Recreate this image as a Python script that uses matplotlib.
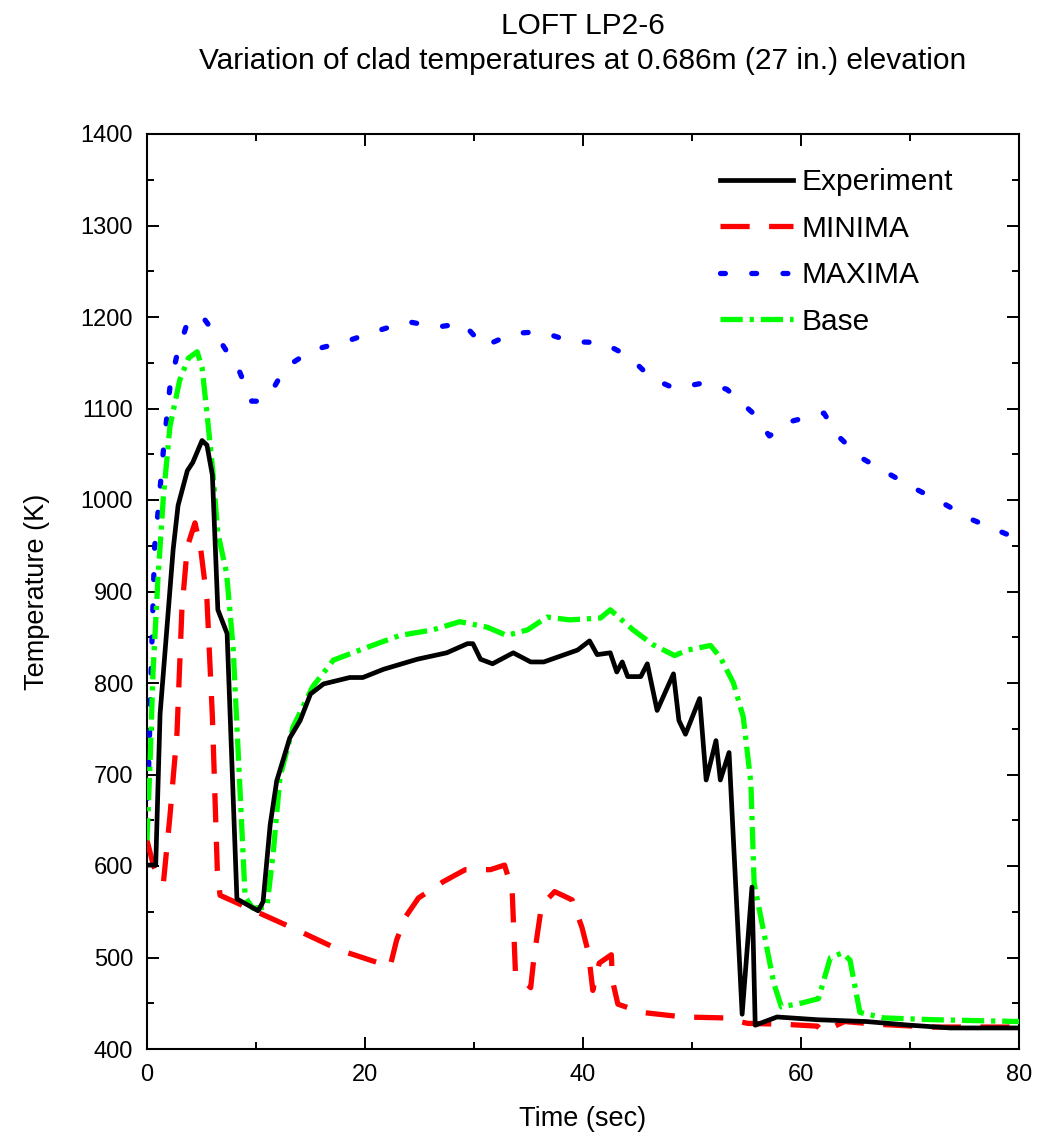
import matplotlib
matplotlib.use("Agg")
import matplotlib.pyplot as plt
from matplotlib.ticker import MultipleLocator

plt.rcParams['font.family'] = ['Liberation Sans', 'DejaVu Sans']
plt.rcParams['lines.scale_dashes'] = False

# ---- data ----
exp_t = [0, 0.8, 1.2, 2.4, 2.85, 3.7, 4.2, 5.05, 5.5, 6.0, 6.5, 7.35, 8.25, 10.2, 10.65,
         11.3, 11.9, 13.1, 14.05, 15.0, 16.2, 18.6, 19.8, 21.7, 24.8, 27.5, 29.4, 29.9,
         30.6, 31.7, 33.6, 35.2, 36.4, 39.5, 40.6, 41.3, 42.5, 43.1, 43.6, 44.1, 45.3,
         45.9, 46.8, 48.3, 48.8, 49.4, 50.7, 51.3, 52.2, 52.6, 53.4, 54.6, 55.5, 55.8,
         57.8, 61.5, 66.0, 70.0, 73.7, 80.0]
exp_T = [601, 601, 766, 946, 994, 1032, 1041, 1065, 1060, 1027, 880, 854, 564, 551, 561,
         645, 693, 740, 759, 788, 799, 806, 806, 815, 826, 833, 843, 843,
         826, 821, 833, 823, 823, 836, 846, 831, 833, 812, 823, 807, 807,
         821, 770, 810, 759, 744, 783, 694, 737, 694, 724, 438, 577, 426,
         435, 432, 430, 426, 423, 423]

min_t = [0, 0.6, 1.5, 2.1, 2.75, 3.2, 3.7, 4.4, 4.9, 5.5, 6.0, 6.45, 6.7, 13.4, 17.7,
         22.3, 22.9, 23.7, 24.9, 27.2, 29.2, 31.5, 32.8, 33.5, 33.8, 35.2, 35.5, 36.2,
         37.4, 39.0, 39.9, 40.5, 40.9, 41.2, 41.5, 42.6, 42.7, 43.2, 45.4, 49.2, 52.9,
         55.1, 58.5, 61.5, 62.0, 64.0, 67.0, 72.0, 80.0]
min_T = [628, 600, 581, 654, 745, 880, 949, 975, 949, 891, 763, 596, 568, 532, 508,
         490, 519, 544, 565, 583, 596, 596, 601, 574, 484, 467, 500, 557,
         572, 563, 533, 505, 464, 481, 494, 503, 475, 449, 440, 435, 434,
         428, 427, 425, 419, 430, 427, 424, 424]

max_t = [0, 0.2, 0.45, 0.7, 1.0, 1.5, 2.1, 2.7, 3.6, 5.0, 6.7, 8.5, 9.6, 10.5, 11.5,
         12.7, 15.2, 18.2, 20.9, 23.9, 26.6, 29.0, 30.9, 33.6, 36.1, 39.0, 41.8, 44.2,
         46.3, 48.4, 51.1, 53.2, 55.5, 57.1, 59.1, 62.1, 63.4, 65.4, 68.0, 70.7, 73.1,
         75.8, 78.6, 80.0]
max_T = [640, 730, 844, 949, 985, 1054, 1123, 1156, 1190, 1202, 1174, 1140, 1108, 1108, 1120,
         1145, 1164, 1173, 1184, 1195, 1189, 1193, 1168, 1182, 1184, 1173, 1172, 1157,
         1133, 1122, 1128, 1121, 1096, 1070, 1086, 1095, 1070, 1047, 1029, 1011, 996,
         978, 964, 957]

base_t = [0, 0.3, 0.55, 1.0, 1.5, 2.1, 3.0, 3.8, 4.6, 5.05, 5.5, 6.0, 6.5, 7.3, 7.9,
          8.5, 9.0, 9.7, 11.0, 11.6, 12.2, 13.4, 15.2, 17.1, 20.2, 23.2, 26.2, 28.7,
          31.2, 33.0, 34.9, 36.7, 38.8, 41.6, 42.5, 44.6, 46.4, 48.4, 49.6, 51.7, 52.6,
          53.8, 54.7, 55.4, 55.7, 56.6, 57.5, 58.2, 60.0, 61.6, 62.7, 63.8, 64.5, 65.4,
          67.6, 72.2, 80.0]
base_T = [628, 720, 811, 913, 1003, 1080, 1131, 1155, 1162, 1145, 1095, 1036, 964, 920, 839,
          691, 566, 554, 555, 617, 697, 752, 796, 825, 839, 852, 858, 867,
          861, 852, 858, 872, 869, 871, 880, 858, 842, 830, 836, 841, 828,
          800, 763, 691, 581, 527, 472, 446, 450, 455, 500, 505, 497, 440,
          434, 432, 430]

labels = ['Experiment', 'MINIMA', 'MAXIMA', 'Base']
title_lines = ['LOFT LP2-6',
               'Variation of clad temperatures at 0.686m (27 in.) elevation']

# ---- figure ----
fig = plt.figure(figsize=(10.39, 11.39), dpi=100)
ax = fig.add_axes([147/1039, 1 - 1049/1139, (1019-147)/1039, (1049-134)/1139])

ax.plot(exp_t, exp_T, color='black', lw=3.4, label=labels[0], zorder=5)
ax.plot(min_t, min_T, color='#ff0000', lw=3.8, dashes=(21, 14), label=labels[1], zorder=3)
ax.plot(max_t, max_T, color='#0000ff', lw=3.8, dashes=(3.5, 19), dash_capstyle='round',
        label=labels[2], zorder=4)
ax.plot(base_t, base_T, color='#00ff00', lw=3.8, dashes=(16, 5, 3, 5), label=labels[3],
        zorder=4)

ax.set_xlim(0, 80)
ax.set_ylim(400, 1400)
ax.xaxis.set_major_locator(MultipleLocator(20))
ax.xaxis.set_minor_locator(MultipleLocator(10))
ax.yaxis.set_major_locator(MultipleLocator(100))
ax.yaxis.set_minor_locator(MultipleLocator(50))
ax.tick_params(which='both', direction='in', top=True, right=True, width=1.4)
ax.tick_params(which='major', length=8.5, labelsize=17)
ax.tick_params(axis='x', which='major', pad=11)
ax.tick_params(axis='y', which='major', pad=10)
ax.tick_params(which='minor', length=5)
for s in ax.spines.values():
    s.set_linewidth(1.5)

ax.set_xlabel('Time (sec)', fontsize=19.5, labelpad=14)
ax.set_ylabel('Temperature (K)', fontsize=19.5, labelpad=22)

leg = ax.legend(loc='upper right', bbox_to_anchor=(0.945, 0.982), frameon=False,
                fontsize=21.5, handlelength=2.45, handletextpad=0.3, labelspacing=0.62,
                borderaxespad=0.2)

fig.text(583/1039, 1 - 26/1139, title_lines[0], ha='center', va='center', fontsize=21.5,
         family=['Liberation Sans Narrow', 'Liberation Sans'])
fig.text(583/1039, 1 - 61/1139, title_lines[1], ha='center', va='center', fontsize=21.5,
         family=['Liberation Sans Narrow', 'Liberation Sans'])

fig.savefig('out.png', dpi=100)
